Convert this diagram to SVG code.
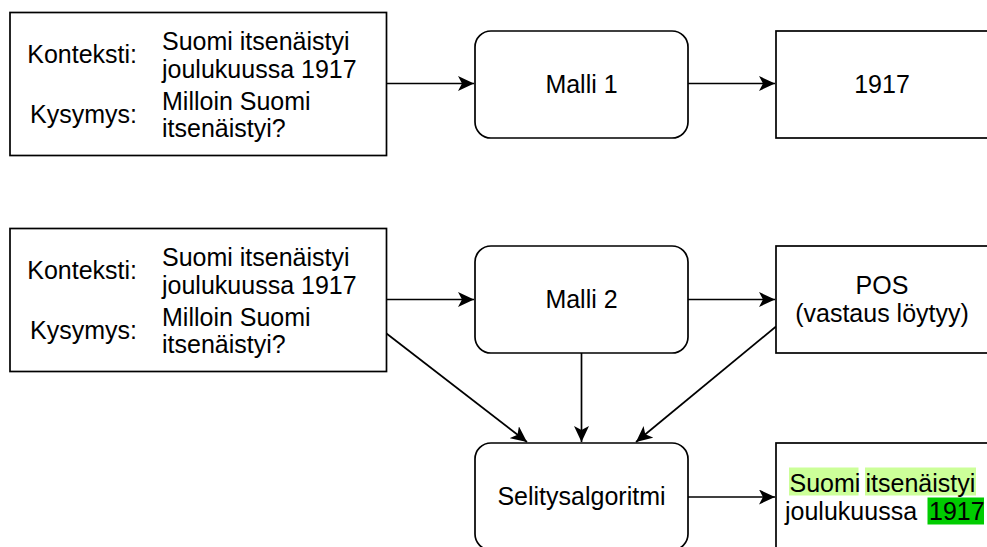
<svg xmlns="http://www.w3.org/2000/svg" width="987" height="547" viewBox="0 0 987 547">
<defs>
<style>
.box{fill:#fff;stroke:#000;stroke-width:1.7}
.t{font-family:"Liberation Sans",Arial,sans-serif;font-size:25px;fill:#000}
.c{text-anchor:middle}
.e{text-anchor:end}
.ln{stroke:#000;stroke-width:1.7;fill:none;marker-end:url(#ah)}
</style>
<marker id="ah" markerUnits="userSpaceOnUse" markerWidth="17" markerHeight="15" refX="16" refY="7.5" orient="auto">
<path d="M0,0 L16,7.5 L0,15 L4,7.5 Z" fill="#000"/>
</marker>
</defs>
<rect width="987" height="547" fill="#fff"/>
<g id="connectors">
<line class="ln" x1="386.5" y1="83.5" x2="474" y2="83.5"/>
<line class="ln" x1="688" y1="83.5" x2="775" y2="83.5"/>
<line class="ln" x1="386.5" y1="299.5" x2="474" y2="299.5"/>
<line class="ln" x1="688" y1="299.5" x2="775" y2="299.5"/>
<line class="ln" x1="386.5" y1="333.5" x2="527" y2="442"/>
<line class="ln" x1="581.5" y1="353" x2="581.5" y2="442"/>
<line class="ln" x1="776" y1="326.5" x2="636" y2="442"/>
<line class="ln" x1="688" y1="497" x2="775" y2="497"/>
</g>
<g id="input1">
<rect class="box" x="10" y="12.5" width="376.5" height="143"/>
<text class="t e" x="137" y="63.3">Konteksti:</text>
<text class="t e" x="137" y="123.3">Kysymys:</text>
<text class="t" x="162" y="50">Suomi itsenäistyi</text>
<text class="t" x="162" y="78.3">joulukuussa 1917</text>
<text class="t" x="162" y="110">Milloin Suomi</text>
<text class="t" x="162" y="137">itsenäistyi?</text>
</g>
<g id="malli1">
<rect class="box" x="475" y="31" width="213" height="107" rx="16"/>
<text class="t c" x="581.5" y="93">Malli 1</text>
</g>
<g id="out1">
<rect class="box" x="776" y="31" width="215" height="107"/>
<text class="t c" x="882" y="93">1917</text>
</g>
<g id="input2">
<rect class="box" x="10" y="228.5" width="376.5" height="143"/>
<text class="t e" x="137" y="279.3">Konteksti:</text>
<text class="t e" x="137" y="339.3">Kysymys:</text>
<text class="t" x="162" y="266">Suomi itsenäistyi</text>
<text class="t" x="162" y="294.3">joulukuussa 1917</text>
<text class="t" x="162" y="326">Milloin Suomi</text>
<text class="t" x="162" y="353">itsenäistyi?</text>
</g>
<g id="malli2">
<rect class="box" x="475" y="246" width="213" height="107" rx="16"/>
<text class="t c" x="581.5" y="308">Malli 2</text>
</g>
<g id="pos">
<rect class="box" x="776" y="246" width="215" height="107"/>
<text class="t c" x="882" y="294">POS</text>
<text class="t c" x="882" y="322">(vastaus löytyy)</text>
</g>
<g id="selitys">
<rect class="box" x="475" y="443" width="213" height="107" rx="16"/>
<text class="t c" x="581.5" y="505">Selitysalgoritmi</text>
</g>
<g id="out2">
<rect class="box" x="776" y="443" width="215" height="110"/>
<rect x="789" y="467.5" width="69.5" height="28" fill="#ccff99"/>
<rect x="865" y="467.5" width="111" height="28" fill="#ccff99"/>
<rect x="927.5" y="497.5" width="56.5" height="27" fill="#00cc00"/>
<text class="t" x="789.5" y="491.5">Suomi</text>
<text class="t" x="865.5" y="491.5">itsenäistyi</text>
<text class="t" x="785" y="520">joulukuussa</text>
<text class="t" x="929" y="520">1917</text>
</g>
</svg>
